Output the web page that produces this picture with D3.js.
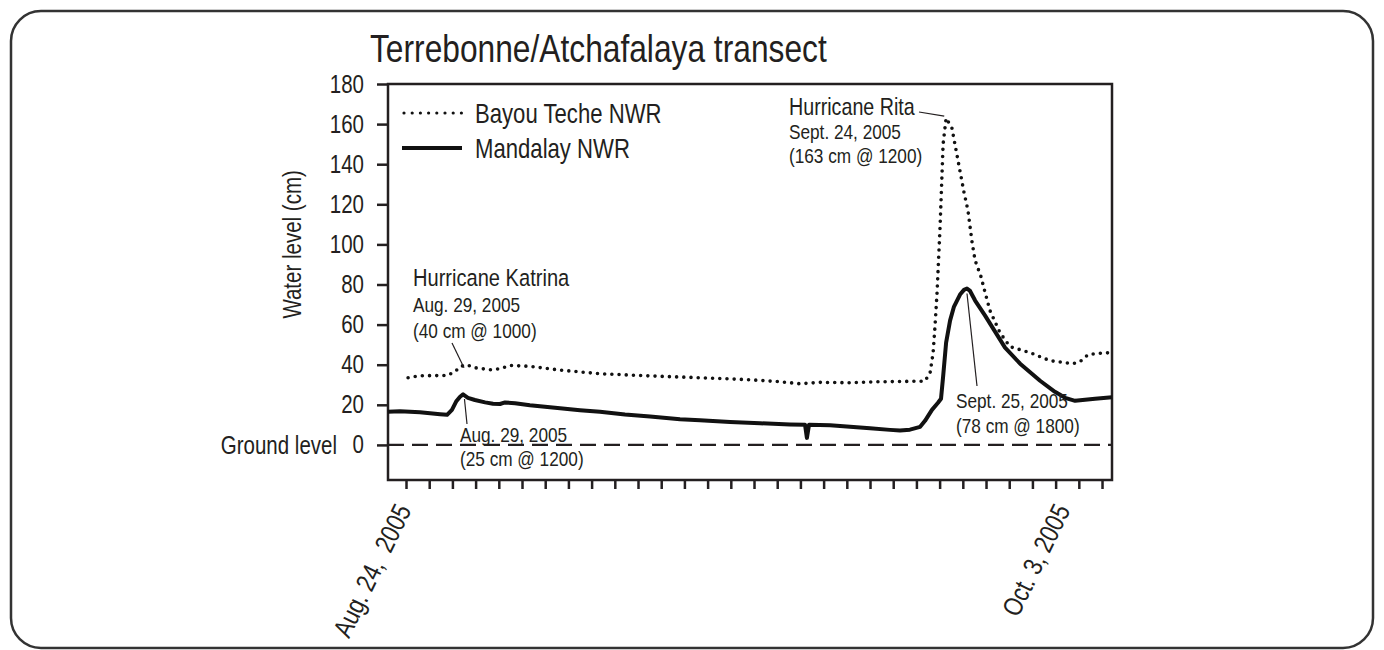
<!DOCTYPE html>
<html>
<head>
<meta charset="utf-8">
<script src="https://cdn.jsdelivr.net/npm/d3@7"></script>
<style>
  html, body { margin: 0; padding: 0; background: #fff; }
  svg { display: block; }
  text { font-family: "Liberation Sans", Arial, sans-serif; fill: #231f20; }
</style>
</head>
<body>
<svg id="chart" width="1384" height="650"></svg>
<script>
// ---- Data (x in day-tick units; tick 0 = Aug. 24, 2005) ----
const mandalayT = [-0.78,-0.26,0.60,1.47,1.77,1.98,2.16,2.33,2.46,2.67,2.97,3.41,3.75,4.05,4.27,4.70,5.34,5.99,6.64,7.50,8.36,9.44,10.52,11.81,12.67,13.97,15.26,16.55,17.20,17.28,17.37,18.28,19.14,20.00,20.86,21.29,21.72,22.16,22.37,22.67,22.93,23.06,23.15,23.28,23.45,23.62,23.88,24.05,24.18,24.30,24.53,24.96,25.39,25.82,26.47,27.33,27.97,28.41,28.84,29.27,29.70,30.43];
const mandalayV = [16.5,16.8,16.3,15.3,15.0,17.5,21.6,24.0,25.2,23.5,22.4,21.2,20.5,20.4,21.2,20.8,19.8,19.0,18.3,17.3,16.5,15.2,14.2,12.8,12.3,11.4,10.8,10.2,10.0,3.5,10.0,9.8,9.0,8.3,7.5,7.2,7.6,9.0,12.0,17.5,21.0,23.0,34,51,62,69,75,77.3,78,77,72,64.5,56.5,48.5,40.5,32,26.5,23.5,22,22.5,23,23.8];

const bayouT = [0.09,0.60,1.77,2.11,2.33,2.59,2.97,3.62,4.05,4.48,5.34,6.64,8.36,10.52,12.67,14.83,16.12,16.98,17.84,19.14,20.43,22.37,22.59,22.72,22.80,22.89,23.02,23.10,23.15,23.28,23.53,23.66,23.79,23.92,24.05,24.22,24.40,24.53,24.78,24.96,25.17,25.60,26.03,26.90,27.76,28.75,29.05,29.40,29.70,30.34];
const bayouV = [33.5,34.5,34.6,36.5,39,40,38.5,37.5,38.0,39.6,39.2,37.3,35.5,34.4,33.5,32.5,31.5,30.5,31.2,31.0,31.5,31.8,36,46,59,76,109,134,150,163,158,150,142,134,126,117,101,92,84,76,67,56,49,46,42,40.5,41.5,45,45.5,46];

const yTicks = [0,20,40,60,80,100,120,140,160,180];
const xTicks = d3.range(0, 31);
const xLabelT = [0, 28.4];
const xLabels = ["Aug. 24,  2005", "Oct. 3, 2005"];
const seriesNames = ["Bayou Teche NWR", "Mandalay NWR"];
const title = "Terrebonne/Atchafalaya transect";
const yTitle = "Water level (cm)";

const annoKatrinaTop = ["Hurricane Katrina", "Aug. 29, 2005", "(40 cm @ 1000)"];
const annoKatrinaLow = ["Aug. 29, 2005", "(25 cm @ 1200)"];
const annoRita = ["Hurricane Rita", "Sept. 24, 2005", "(163 cm @ 1200)"];
const annoRitaLow = ["Sept. 25, 2005", "(78 cm @ 1800)"];

// ---- Layout ----
const svg = d3.select("#chart");
const L = 388, R = 1112, T = 84, B = 480;
const x = d3.scaleLinear().domain([-0.776, 30.43]).range([L, R]);
const y = d3.scaleLinear().domain([-17.5, 180]).range([B, T]);
const ink = "#231f20";
const NARROW = 0.82;

function addText(str, px, py, size, anchor, rot) {
  return svg.append("text")
    .attr("text-anchor", anchor || "start")
    .attr("font-size", size)
    .attr("xml:space", "preserve")
    .style("white-space", "pre")
    .attr("transform", `translate(${px},${py})${rot ? ` rotate(${rot})` : ""} scale(${NARROW},1)`)
    .text(str);
}

// outer rounded border
svg.append("rect").attr("x", 11).attr("y", 11).attr("width", 1362).attr("height", 637)
  .attr("rx", 30).attr("ry", 30).attr("fill", "none").attr("stroke", "#333").attr("stroke-width", 2.5);

// title
addText(title, 370, 62, 38.7);

// frame
svg.append("rect").attr("x", L).attr("y", T).attr("width", R - L).attr("height", B - T)
  .attr("fill", "none").attr("stroke", ink).attr("stroke-width", 2.5);

// y axis
const yAxis = svg.append("g").attr("transform", `translate(${L},0)`)
  .call(d3.axisLeft(y).tickValues(yTicks).tickSize(11).tickPadding(12));
yAxis.select(".domain").remove();
yAxis.selectAll(".tick line").attr("stroke", ink).attr("stroke-width", 2.5);
yAxis.selectAll(".tick text").attr("font-size", 25).attr("fill", ink)
  .attr("font-family", '"Liberation Sans", Arial, sans-serif')
  .attr("x", 0).attr("transform", `translate(-24,0) scale(${NARROW},1)`);

// x axis
const xAxis = svg.append("g").attr("transform", `translate(0,${B})`)
  .call(d3.axisBottom(x).tickValues(xTicks).tickSize(9).tickFormat(""));
xAxis.select(".domain").remove();
xAxis.selectAll(".tick line").attr("stroke", ink).attr("stroke-width", 2.5);

// x labels rotated
xLabels.forEach((s, i) => addText(s, x(xLabelT[i]) + 6, B + 30, 27, "end", -64));

// y title
addText(yTitle, 301, y(100), 25, "middle", -90);

// ground level
addText("Ground level", 337, y(0) + 9, 25, "end");
svg.append("line").attr("x1", L).attr("x2", R).attr("y1", y(0)).attr("y2", y(0))
  .attr("stroke", ink).attr("stroke-width", 2.2).attr("stroke-dasharray", "16,8");

// series
const line = d3.line().x(d => x(d[0])).y(d => y(d[1]));
const bayou = bayouT.map((t, i) => [t, bayouV[i]]);
const mandalay = mandalayT.map((t, i) => [t, mandalayV[i]]);

svg.append("path").datum(bayou).attr("d", line).attr("fill", "none")
  .attr("stroke", "#111").attr("stroke-width", 3.6).attr("stroke-linecap", "round")
  .attr("stroke-dasharray", "0,7.2");
svg.append("path").datum(mandalay).attr("d", line).attr("fill", "none")
  .attr("stroke", "#111").attr("stroke-width", 4).attr("stroke-linejoin", "round");

// legend
svg.append("line").attr("x1", 404).attr("x2", 462).attr("y1", 113).attr("y2", 113)
  .attr("stroke", "#111").attr("stroke-width", 3.2).attr("stroke-linecap", "round").attr("stroke-dasharray", "0,8.2");
svg.append("line").attr("x1", 402).attr("x2", 462).attr("y1", 148).attr("y2", 148)
  .attr("stroke", "#111").attr("stroke-width", 4);
addText(seriesNames[0], 475, 123, 27);
addText(seriesNames[1], 475, 158, 27);

// annotations
function block(lines, x0, y0, sizes, gap) {
  lines.forEach((s, i) => addText(s, x0, y0 + i * gap, sizes[i]));
}
function leader(x1, y1, x2, y2) {
  svg.append("line").attr("x1", x1).attr("y1", y1).attr("x2", x2).attr("y2", y2)
    .attr("stroke", ink).attr("stroke-width", 1.2);
}
block(annoKatrinaTop, 413, 286, [24.5, 21, 21], 26);
leader(452, 343, x(2.5), y(40) + 3);

block(annoKatrinaLow, 460, 442, [21, 21], 24);
leader(x(2.52), y(25.4) + 5, 467, 424);

block(annoRita, 789, 115, [24, 21, 21], 24);
leader(919, 112, x(23.2), y(163) - 2);

block(annoRitaLow, 956, 408, [21, 21], 25);
leader(x(24.18), y(78) + 5, 977, 386);
</script>
</body>
</html>
